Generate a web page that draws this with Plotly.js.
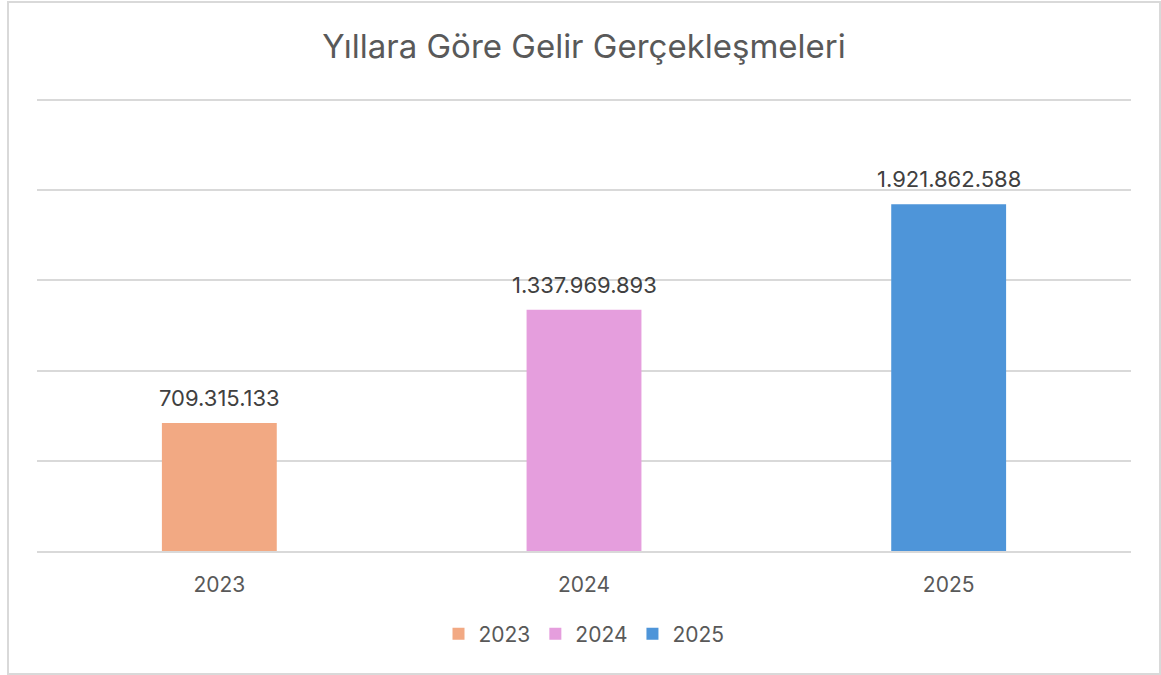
<!DOCTYPE html>
<html>
<head>
<meta charset="utf-8">
<script src="https://cdn.plot.ly/plotly-3.0.1.min.js"></script>
<style>
  html, body { margin: 0; padding: 0; background: #fff; }
  #chart { position: absolute; left: 0; top: 0; width: 1161px; height: 675px; }
  #frame { position: absolute; left: 7px; top: 1px; width: 1150px; height: 670px;
           border: 2px solid #d9d9d9; pointer-events: none; }
</style>
</head>
<body>
<div id="chart"></div>
<div id="frame"></div>
<script>
const categories = ['2023', '2024', '2025'];
const values = [709315133, 1337969893, 1921862588];
const valueLabels = ['709.315.133', '1.337.969.893', '1.921.862.588'];
const colors = ['#F2A983', '#E59EDD', '#4E95D9'];
const tickValues = [0, 500000000, 1000000000, 1500000000, 2000000000, 2500000000];

const FONT = 'Inter, "Open Sans", sans-serif';

const traces = categories.map((c, i) => ({
  type: 'bar',
  name: c,
  x: [c],
  y: [values[i]],
  marker: { color: colors[i] },
  width: 0.315,
  hoverinfo: 'none'
}));

// annotation x uses the category index on the category axis
const annotations = categories.map((c, i) => ({
  x: i, y: values[i], xref: 'x', yref: 'y',
  text: valueLabels[i],
  showarrow: false,
  yanchor: 'middle',
  yshift: 25,
  font: { family: FONT, size: 22, color: '#404040' }
}));

const layout = {
  width: 1161,
  height: 675,
  margin: { l: 37, r: 30, t: 90, b: 124 },
  paper_bgcolor: '#ffffff',
  plot_bgcolor: '#ffffff',
  barmode: 'overlay',
  font: { family: FONT, color: '#595959' },
  title: {
    text: 'Yıllara Göre Gelir Gerçekleşmeleri',
    font: { family: FONT, size: 33, color: '#595959' },
    x: 0.5, xanchor: 'center', xref: 'paper',
    y: 1 - 46/675, yanchor: 'middle', yref: 'container'
  },
  xaxis: {
    type: 'category',
    categoryorder: 'array',
    categoryarray: categories,
    range: [-0.5, 2.5],
    autorange: false,
    showline: true, linecolor: '#d9d9d9', linewidth: 2,
    showgrid: false, zeroline: false,
    ticks: 'outside', ticklen: 14, tickcolor: 'rgba(0,0,0,0)',
    tickfont: { size: 21, color: '#595959' },
    fixedrange: true
  },
  yaxis: {
    range: [0, 2555400000],
    autorange: false,
    tickvals: tickValues,
    showticklabels: false,
    showgrid: true, gridcolor: '#d9d9d9', gridwidth: 2,
    zeroline: false, showline: false,
    fixedrange: true
  },
  legend: {
    orientation: 'h',
    x: 0.5, xanchor: 'center',
    y: 1 - 634/675, yanchor: 'middle', yref: 'container',
    font: { size: 21, color: '#595959' },
    itemclick: false, itemdoubleclick: false
  },
  annotations: annotations,
  showlegend: true
};

Plotly.newPlot('chart', traces, layout, { displayModeBar: false, staticPlot: true });
</script>
</body>
</html>
